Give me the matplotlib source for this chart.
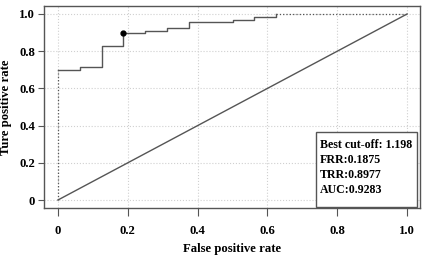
import numpy as np
import matplotlib.pyplot as plt
from matplotlib.patches import Rectangle

plt.rcParams['font.family'] = ['Liberation Serif', 'DejaVu Serif']
plt.rcParams['font.weight'] = 'bold'

# ROC step points (false positive rate, true positive rate)
fpr = [0.0, 0.0625, 0.0625, 0.125, 0.125, 0.1875, 0.1875, 0.25, 0.25, 0.3125, 0.3125,
       0.375, 0.375, 0.5, 0.5, 0.5625, 0.5625, 0.625, 0.625]
tpr = [0.70, 0.70, 0.715, 0.715, 0.83, 0.83, 0.8977, 0.8977, 0.91, 0.91, 0.923,
       0.923, 0.957, 0.957, 0.97, 0.97, 0.986, 0.986, 1.0]
best_fpr, best_tpr = 0.1875, 0.8977
ticks = [0, 0.2, 0.4, 0.6, 0.8, 1.0]
tick_labels = ["0", "0.2", "0.4", "0.6", "0.8", "1.0"]
info = "Best cut-off: 1.198\nFRR:0.1875\nTRR:0.8977\nAUC:0.9283"

fig = plt.figure(figsize=(4.25, 2.56), dpi=100)
ax = fig.add_axes([44/425, 48/256, 376/425, 202/256])

line_c = '#555555'
ax.grid(True, color='#d0d0d0', linestyle=':', linewidth=0.8)
ax.plot([0, 1], [0, 1], color=line_c, linewidth=1.0)
ax.plot(fpr, tpr, color=line_c, linewidth=1.0)
ax.plot([0, 0], [0, tpr[0]], color=line_c, linewidth=0.9, linestyle=':')
ax.plot([fpr[-1], 1], [1, 1], color=line_c, linewidth=0.9, linestyle=':')
ax.plot(best_fpr, best_tpr, 'o', color='black', markersize=3.5)

ax.set_xlim(-0.04, 1.037)
ax.set_ylim(-0.043, 1.043)
ax.set_xticks(ticks)
ax.set_xticklabels(tick_labels)
ax.set_yticks(ticks)
ax.set_yticklabels(tick_labels)
ax.tick_params(axis='x', direction='out', length=6, color=line_c, labelsize=9.2, pad=6)
ax.tick_params(axis='y', direction='out', length=4.3, color=line_c, labelsize=9.2, pad=2)
for s in ax.spines.values():
    s.set_color(line_c)
    s.set_linewidth(1.0)

ax.set_xlabel("False positive rate", fontsize=9.2, fontweight='bold')
ax.xaxis.set_label_coords(0.5, -0.175)
ax.set_ylabel("Ture positive rate", fontsize=9.2, fontweight='bold')
ax.yaxis.set_label_coords(-0.085, 0.5)

ax.add_patch(Rectangle((0.723, 0.005), 0.269, 0.371, transform=ax.transAxes,
                       facecolor='white', edgecolor=line_c, linewidth=1.0, zorder=5))
ax.text(0.733, 0.34, info, transform=ax.transAxes, fontsize=8.6, fontweight='bold',
        va='top', ha='left', linespacing=1.32, zorder=6)

fig.savefig('out.png', dpi=100)
